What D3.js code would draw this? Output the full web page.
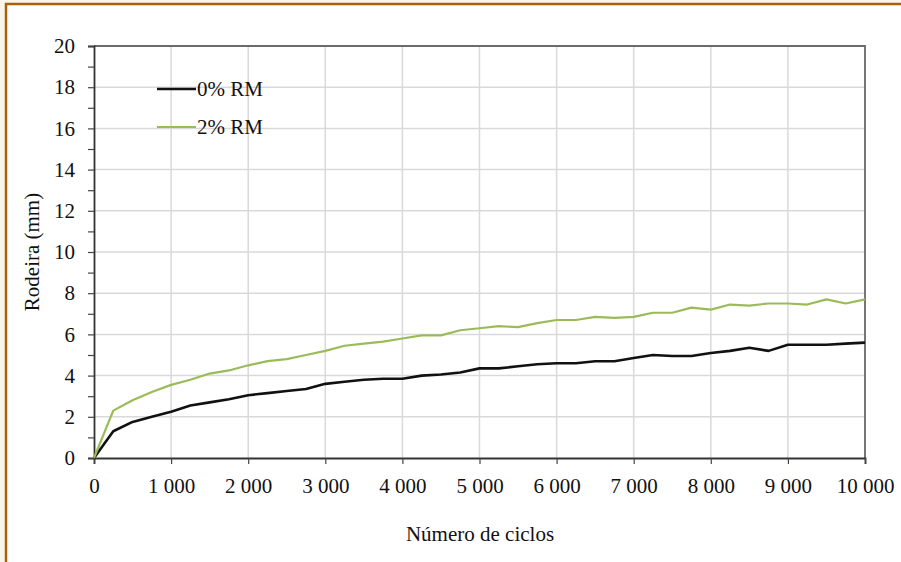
<!DOCTYPE html>
<html>
<head>
<meta charset="utf-8">
<script src="https://cdn.jsdelivr.net/npm/d3@7"></script>
<style>
  body { margin: 0; background: #f8f6ea; }
  svg { display: block; }
  text { font-family: "Liberation Serif", "Times New Roman", serif; fill: #111; }
</style>
</head>
<body>
<svg width="901" height="562"></svg>
<script>
// cycles every 250
var cycles = d3.range(0, 10001, 250);
var rm0 = [0, 1.3, 1.75, 2.0, 2.25, 2.55, 2.7, 2.85, 3.05, 3.15, 3.25, 3.35, 3.6, 3.7, 3.8, 3.85, 3.85,
    4.0, 4.05, 4.15, 4.35, 4.35, 4.45, 4.55, 4.6, 4.6, 4.7, 4.7, 4.85, 5.0, 4.95, 4.95, 5.1, 5.2, 5.35,
    5.2, 5.5, 5.5, 5.5, 5.55, 5.6];
var rm2 = [0, 2.3, 2.8, 3.2, 3.55, 3.8, 4.1, 4.25, 4.5, 4.7, 4.8, 5.0, 5.2, 5.45, 5.55, 5.65, 5.8,
    5.95, 5.95, 6.2, 6.3, 6.4, 6.35, 6.55, 6.7, 6.7, 6.85, 6.8, 6.85, 7.05, 7.05, 7.3, 7.2, 7.45, 7.4,
    7.5, 7.5, 7.45, 7.7, 7.5, 7.7];
var seriesNames = ['0% RM', '2% RM'];
var seriesColors = ['#111111', '#9bbb59'];
var xTicks = d3.range(0, 10001, 1000);
var yTicks = d3.range(0, 21, 2);

var svg = d3.select('svg');

// frame (brown border, cropped on right/bottom)
svg.append('rect').attr('x', 6).attr('y', 4).attr('width', 1000).attr('height', 700)
    .attr('fill', '#fff').attr('stroke', '#a8600a').attr('stroke-width', 2.5);

var padding = {l: 94, t: 46, r: 865, b: 458};
var x = d3.scaleLinear().domain([0, 10000]).range([padding.l, padding.r]);
var y = d3.scaleLinear().domain([0, 20]).range([padding.b, padding.t]);

var fmt = function(d) { return d >= 1000 ? Math.floor(d / 1000) + ' 000' : '' + d; };

// gridlines
svg.append('g').selectAll('line.gx').data(xTicks.slice(1)).enter().append('line')
    .attr('x1', function(d) { return x(d); }).attr('x2', function(d) { return x(d); })
    .attr('y1', padding.t).attr('y2', padding.b)
    .attr('stroke', '#d9d9d9').attr('stroke-width', 1.5);
svg.append('g').selectAll('line.gy').data(yTicks.slice(1)).enter().append('line')
    .attr('x1', padding.l).attr('x2', padding.r)
    .attr('y1', function(d) { return y(d); }).attr('y2', function(d) { return y(d); })
    .attr('stroke', '#d9d9d9').attr('stroke-width', 1.5);

// plot border top & right
svg.append('path')
    .attr('d', 'M' + padding.l + ',' + padding.t + 'H' + padding.r + 'V' + padding.b)
    .attr('fill', 'none').attr('stroke', '#6b6b6b').attr('stroke-width', 1.8);

// axes
var xAxis = d3.axisBottom(x).tickValues(xTicks).tickFormat(fmt).tickSize(6).tickPadding(14);
var gx = svg.append('g').attr('transform', 'translate(0,' + padding.b + ')').call(xAxis);
var yAxis = d3.axisLeft(y).tickValues(d3.range(0, 21, 1)).tickSize(6).tickPadding(13)
    .tickFormat(function(d) { return d % 2 === 0 ? d : ''; });
var gy = svg.append('g').attr('transform', 'translate(' + padding.l + ',0)').call(yAxis);
[gx, gy].forEach(function(g) {
    g.select('.domain').attr('stroke', '#333').attr('stroke-width', 1.8);
    g.selectAll('.tick line').attr('stroke', '#444').attr('stroke-width', 1.2);
    g.selectAll('.tick text').attr('font-size', 21).attr('fill', '#111');
});

// lines
var line = d3.line().x(function(d, i) { return x(cycles[i]); }).y(function(d) { return y(d); });
[rm0, rm2].forEach(function(s, i) {
    svg.append('path').datum(s).attr('d', line)
        .attr('fill', 'none').attr('stroke', seriesColors[i])
        .attr('stroke-width', i === 0 ? 2.6 : 2.2).attr('stroke-linejoin', 'round');
});

// legend
seriesNames.forEach(function(n, i) {
    var ly = 89 + i * 38;
    svg.append('line').attr('x1', 157).attr('x2', 196).attr('y1', ly).attr('y2', ly)
        .attr('stroke', seriesColors[i]).attr('stroke-width', i === 0 ? 2.6 : 2.2);
    svg.append('text').attr('x', 197).attr('y', ly + 7).attr('font-size', 21).text(n);
});

// axis titles
svg.append('text').attr('x', 480).attr('y', 541).attr('text-anchor', 'middle')
    .attr('font-size', 21).text('Número de ciclos');
svg.append('text').attr('transform', 'translate(39,252) rotate(-90)').attr('text-anchor', 'middle')
    .attr('font-size', 21).text('Rodeira (mm)');
</script>
</body>
</html>
